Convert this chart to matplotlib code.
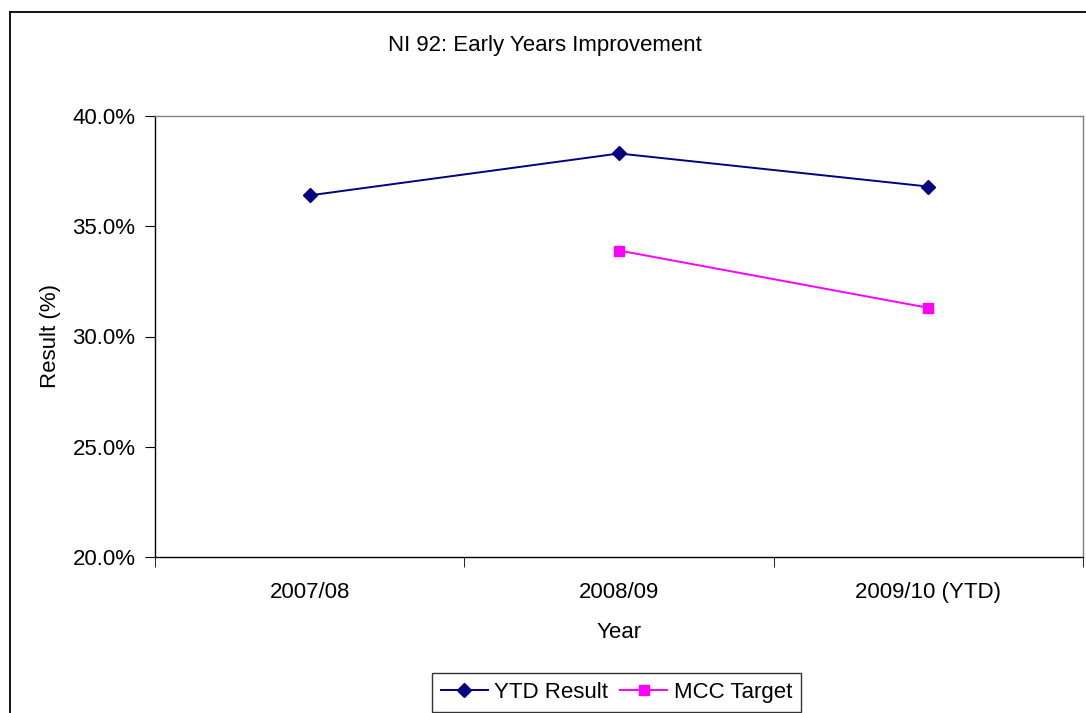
import matplotlib
matplotlib.use("Agg")
import matplotlib.pyplot as plt
from matplotlib.lines import Line2D

plt.rcParams['font.family'] = ['Liberation Sans', 'DejaVu Sans']

years = ['2007/08', '2008/09', '2009/10 (YTD)']
ytd_result = [36.4, 38.3, 36.8]
mcc_target = [None, 33.9, 31.3]
y_ticks = [20, 25, 30, 35, 40]

W, H = 1086, 713
FS = 16
fig = plt.figure(figsize=(W / 100, H / 100), dpi=100)

# outer chart frame (runs off the bottom/right of the picture)
fig.add_artist(Line2D([10 / W, 10 / W], [1 - 12 / H, -0.1], transform=fig.transFigure,
                      color='black', lw=1.3))
fig.add_artist(Line2D([10 / W, 1.1], [1 - 12 / H, 1 - 12 / H], transform=fig.transFigure,
                      color='black', lw=1.3))

ax = fig.add_axes([155 / W, 1 - 557 / H, (1083 - 155) / W, (557 - 116) / H])

x = list(range(len(years)))
ax.plot(x, ytd_result, color='#000080', marker='D', markersize=7, lw=1.4, label='YTD Result')
mx = [i for i, v in enumerate(mcc_target) if v is not None]
my = [v for v in mcc_target if v is not None]
ax.plot(mx, my, color='#FF00FF', marker='s', markersize=7, lw=1.4, label='MCC Target')

ax.set_xlim(-0.5, len(years) - 0.5)
ax.set_ylim(20, 40)
ax.set_yticks(y_ticks)
ax.set_yticklabels([f'{v:.1f}%' for v in y_ticks], fontsize=FS)
ax.set_xticks(x)
ax.set_xticklabels(years, fontsize=FS)
ax.tick_params(axis='x', length=0, pad=18)
ax.set_xticks([i - 0.5 for i in range(len(years) + 1)], minor=True)
ax.tick_params(axis='x', which='minor', length=7, direction='out', color='black')
ax.tick_params(axis='y', length=7, direction='out', color='black', pad=7)

for s in ['left', 'bottom']:
    ax.spines[s].set_color('black')
    ax.spines[s].set_linewidth(1.0)
for s in ['top', 'right']:
    ax.spines[s].set_color('#808080')
    ax.spines[s].set_linewidth(1.0)

ax.set_xlabel('Year', fontsize=FS, labelpad=14)
ax.set_ylabel('Result (%)', fontsize=FS, labelpad=8)

fig.text(545 / W, 1 - 45 / H, 'NI 92: Early Years Improvement', fontsize=FS,
         ha='center', va='center')

leg = fig.legend(loc='upper left', bbox_to_anchor=(432 / W, 1 - 673 / H), ncol=2,
                 fontsize=FS, frameon=True, fancybox=False, handlelength=2.1,
                 handletextpad=0.3, columnspacing=0.55, borderpad=0.4, borderaxespad=0)
leg.get_frame().set_edgecolor('black')
leg.get_frame().set_linewidth(1.0)

fig.savefig('out.png', dpi=100)
